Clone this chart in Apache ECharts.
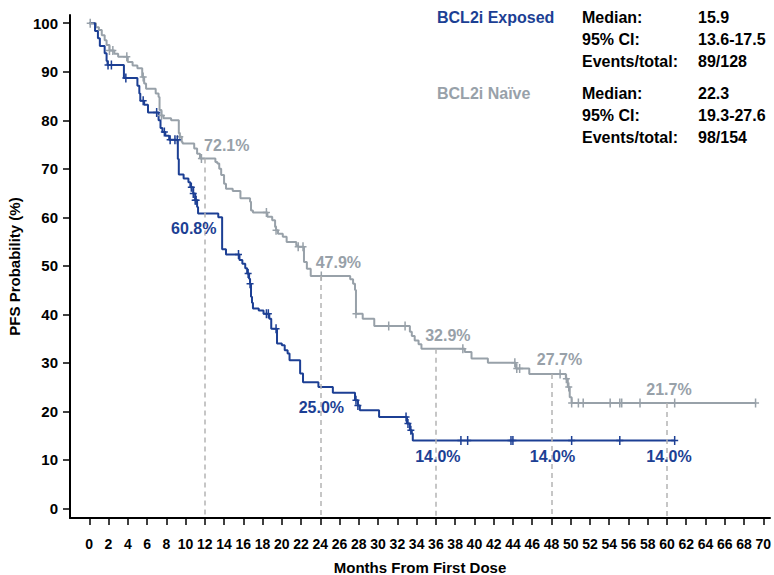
<!DOCTYPE html>
<html>
<head>
<meta charset="utf-8">
<script src="https://cdn.jsdelivr.net/npm/echarts@6/dist/echarts.min.js"></script>
<style>
  html, body { margin: 0; padding: 0; background: #fff; }
  #chart { width: 774px; height: 575px; }
</style>
</head>
<body>
<div id="chart"></div>
<script>
// Kaplan-Meier step points [month, PFS %] - each point is where the curve drops to that level
const exposedCurve = [
  [0,100],[0.6,98.4],[0.9,96.9],[1.1,95.3],[1.6,93.8],[1.8,92.2],[1.9,91.4],
  [3.6,88.7],[5.0,87.1],[5.2,85.5],[5.3,84.0],[5.7,83.2],[6.1,81.6],
  [7.2,80.0],[7.4,78.4],[7.6,77.6],[7.9,76.8],[8.3,76.0],[9.2,72.0],[9.3,68.8],
  [9.8,68.0],[10.3,67.2],[10.5,66.2],[10.8,64.9],[11.0,63.5],[11.2,62.1],[11.3,60.8],
  [13.4,60.0],[13.8,53.4],[14.2,52.3],[15.6,51.2],[15.9,50.4],[16.2,49.5],[16.4,48.4],
  [16.6,47.3],[16.7,46.3],[16.8,43.6],[16.9,42.4],[17.0,41.2],[17.6,40.8],[18.1,40.1],
  [18.7,39.1],[18.9,37.0],[19.5,34.0],[20.0,33.6],[20.3,32.6],[20.6,31.9],[20.8,30.5],
  [21.9,27.8],[22.2,26.0],[23.8,25.0],[25.3,23.8],[27.6,22.3],[27.9,21.2],[28.1,20.2],
  [30.1,18.8],[33.0,17.5],[33.3,16.1],[33.5,15.4],[33.6,14.0],[60.8,14.0]
];
const naiveCurve = [
  [0,100],[0.7,99.2],[1.0,98.6],[1.3,97.5],[1.6,96.5],[1.8,95.5],[2.1,94.4],[2.6,93.7],
  [3.0,93.1],[4.0,92.0],[4.5,91.3],[5.0,90.7],[5.5,88.9],[5.7,87.6],[5.9,86.5],
  [6.9,85.5],[7.2,84.8],[7.3,82.1],[7.5,81.0],[7.7,80.4],[8.5,80.0],[9.3,77.3],
  [9.4,76.6],[9.6,75.5],[9.7,75.2],[10.9,74.2],[11.2,73.1],[11.5,72.1],[13.1,71.4],
  [13.3,71.1],[13.5,70.0],[13.7,68.7],[14.0,66.9],[14.2,65.9],[14.9,65.4],[15.7,63.9],
  [16.7,63.2],[16.8,61.4],[17.0,61.0],[18.5,60.1],[19.0,59.4],[19.3,58.0],[19.4,57.3],
  [19.6,56.6],[20.1,56.0],[20.5,54.9],[21.5,54.2],[21.7,53.9],[22.3,50.8],[22.6,49.4],
  [23.0,47.9],[27.1,47.2],[27.4,46.3],[27.6,45.0],[27.7,40.1],[28.4,39.1],[29.6,37.6],
  [33.3,36.4],[33.5,35.5],[33.8,34.6],[34.2,33.8],[34.5,32.9],[39.0,32.2],[39.7,30.9],
  [41.4,30.0],[44.3,28.8],[45.7,27.7],[49.5,26.7],[49.7,25.0],[49.9,22.9],[50.1,21.7],
  [69.2,21.7]
];

// Censoring times (months)
const exposedCensor = [1.95,2.3,3.8,5.6,7.0,7.8,8.4,8.9,9.15,10.6,10.8,11.0,11.1,15.5,16.5,
  16.7,18.4,18.6,19.4,27.7,27.9,32.9,33.1,33.4,38.6,39.3,43.8,44.0,50.1,55.1,60.8];
const naiveCensor = [0.1,2.1,2.45,3.9,5.6,7.5,9.4,11.65,18.4,19.4,21.7,22.2,24.1,27.7,31.1,
  32.8,38.8,44.2,44.4,44.7,48.9,49.55,49.8,50.1,50.8,51.3,54.1,55.1,55.3,57.2,60.8,69.2];

// Landmark estimates
const landmarkMonths = [12, 24, 36, 48, 60];
const exposedLandmark = [60.8, 25.0, 14.0, 14.0, 14.0];
const naiveLandmark = [72.1, 47.9, 32.9, 27.7, 21.7];

// Axis ticks
const xTicks = [0,2,4,6,8,10,12,14,16,18,20,22,24,26,28,30,32,34,36,38,40,42,44,46,48,50,52,54,56,58,60,62,64,66,68,70];
const yTicks = [0,10,20,30,40,50,60,70,80,90,100];

// Summary statistics
const groupNames = ['BCL2i Exposed', 'BCL2i Na\u00efve'];
const statLabels = ['Median:', '95% CI:', 'Events/total:'];
const exposedStats = ['15.9', '13.6-17.5', '89/128'];
const naiveStats = ['22.3', '19.3-27.6', '98/154'];

const BLUE = '#1c3f94';
const GRAY = '#98a1a9';
const FONT = '"Liberation Sans", Arial, sans-serif';

function levelAt(curve, t) {
  let v = curve[0][1];
  for (const p of curve) { if (p[0] <= t) v = p[1]; else break; }
  return v;
}
const plusPath = 'path://M5.5,0H8.5V18H5.5Z M0,7.5H14V10.5H0Z';

const exposedOffsets = [[-11, 15], [1, 20], [2, 16], [1, 16], [2, 16]];
const naiveOffsets = [[22, -13], [18, -13], [12, -13], [8, -14], [2, -14]];

const chart = echarts.init(document.getElementById('chart'), null, { renderer: 'svg' });

const graphicText = [];
const rowsTop = [18, 94];
[exposedStats, naiveStats].forEach((stats, g) => {
  graphicText.push({
    type: 'text', left: 437, top: rowsTop[g] - 9,
    style: { text: groupNames[g], font: 'bold 16px ' + FONT, fill: g === 0 ? BLUE : GRAY }
  });
  statLabels.forEach((lab, i) => {
    graphicText.push({
      type: 'text', left: 582, top: rowsTop[g] + i * 22 - 9,
      style: { text: lab, font: 'bold 16px ' + FONT, fill: '#000' }
    });
    graphicText.push({
      type: 'text', left: 698, top: rowsTop[g] + i * 22 - 9,
      style: { text: stats[i], font: 'bold 16px ' + FONT, fill: '#000' }
    });
  });
});

const dashed = landmarkMonths.map((m, i) => [
  { coord: [m, naiveLandmark[i]] }, { coord: [m, -2] }
]);

function labelSeries(values, offsets, color) {
  return {
    type: 'scatter', symbolSize: 0, silent: true, z: 5,
    itemStyle: { opacity: 1 },
    data: landmarkMonths.map((m, i) => ({
      value: [m, values[i]],
      label: { offset: offsets[i] }
    })),
    label: {
      show: true, position: 'inside', color: color, opacity: 1,
      fontFamily: FONT, fontWeight: 'bold', fontSize: 16,
      formatter: p => p.value[1].toFixed(1) + '%'
    }
  };
}

chart.setOption({
  animation: false,
  backgroundColor: '#fff',
  grid: { left: 70, right: 4, top: 15, bottom: 57, containLabel: false, outerBoundsMode: 'none' },
  xAxis: {
    type: 'value', min: -2, max: 70.7,
    name: 'Months From First Dose', nameLocation: 'middle', nameGap: 42,
    nameTextStyle: { fontFamily: FONT, fontWeight: 'bold', fontSize: 15, color: '#000' },
    axisLine: { show: true, onZero: false, lineStyle: { color: '#000', width: 2 } },
    axisTick: { show: true, customValues: xTicks, length: 7, lineStyle: { color: '#000', width: 1.5 } },
    axisLabel: {
      customValues: xTicks, margin: 19, color: '#000',
      fontFamily: '"Liberation Sans Narrow", "Liberation Sans", Arial, sans-serif',
      fontWeight: 'bold', fontSize: 14, hideOverlap: false
    },
    splitLine: { show: false }
  },
  yAxis: {
    type: 'value', min: -2, max: 101.7,
    name: 'PFS Probability (%)', nameLocation: 'middle', nameGap: 37,
    nameTextStyle: { fontFamily: FONT, fontWeight: 'bold', fontSize: 15, color: '#000' },
    axisLine: { show: true, onZero: false, lineStyle: { color: '#000', width: 2 } },
    axisTick: { show: true, customValues: yTicks, length: 7, lineStyle: { color: '#000', width: 1.5 } },
    axisLabel: {
      customValues: yTicks, margin: 12, color: '#000',
      fontFamily: FONT, fontWeight: 'bold', fontSize: 15
    },
    splitLine: { show: false }
  },
  graphic: graphicText,
  series: [
    {
      name: groupNames[1], type: 'line', step: 'end', data: naiveCurve,
      showSymbol: false, lineStyle: { color: GRAY, width: 2 }, z: 2,
      markLine: {
        silent: true, symbol: 'none', label: { show: false },
        lineStyle: { color: '#b4b4b4', width: 1.5, type: [5, 4] },
        data: dashed
      }
    },
    {
      name: groupNames[0], type: 'line', step: 'end', data: exposedCurve,
      showSymbol: false, lineStyle: { color: BLUE, width: 2 }, z: 3
    },
    {
      type: 'scatter', symbol: plusPath, symbolSize: [7, 9], z: 3,
      itemStyle: { color: GRAY, opacity: 1 },
      data: naiveCensor.map(t => [t, levelAt(naiveCurve, t)])
    },
    {
      type: 'scatter', symbol: plusPath, symbolSize: [7, 9], z: 4,
      itemStyle: { color: BLUE, opacity: 1 },
      data: exposedCensor.map(t => [t, levelAt(exposedCurve, t)])
    },
    labelSeries(naiveLandmark, naiveOffsets, GRAY),
    labelSeries(exposedLandmark, exposedOffsets, BLUE)
  ]
});
</script>
</body>
</html>
